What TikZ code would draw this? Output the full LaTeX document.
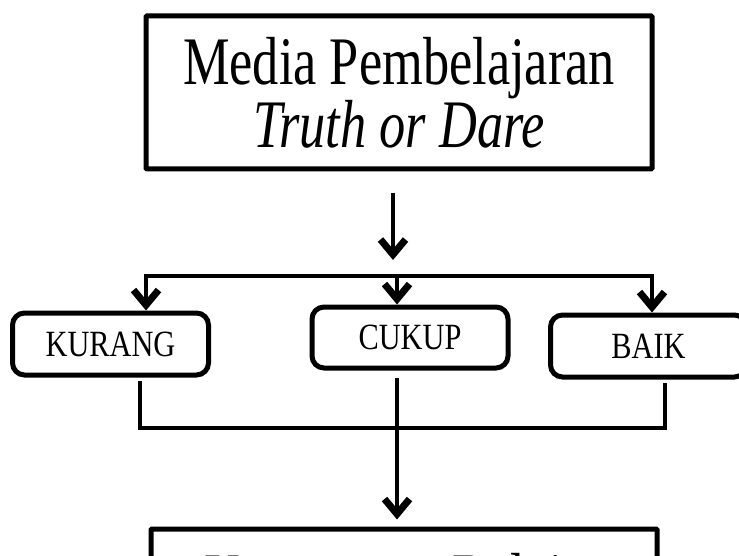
\documentclass[tikz,border=0pt]{standalone}
\usepackage{fontspec}
\usepackage{graphicx}
\setmainfont{Liberation Serif}
\usetikzlibrary{arrows.meta}
\newcommand\hx[1]{\scalebox{0.77}[1]{#1}}
\newcommand\cx[1]{\scalebox{0.82}[1]{#1}}
\begin{document}
\begin{tikzpicture}[x=1pt,y=-1pt,
  bigbox/.style={draw, line width=5pt, rounded corners=1pt, minimum width=506pt, minimum height=153pt,
    inner sep=0pt, align=center, font=\fontsize{68}{58}\selectfont},
  catbox/.style={draw, line width=5pt, rounded corners=12pt, minimum width=196pt, minimum height=62pt,
    inner sep=0pt, font=\fontsize{37}{40}\selectfont},
  busline/.style={line width=4.5pt, line cap=rect},
  arr/.style={line width=4.5pt, -{Straight Barb[length=15pt,width=25pt,line width=7pt]}},
]
\useasboundingbox[fill=white] (0,0) rectangle (739,556);

% boxes
\node[bigbox] (media) at (399,92.5) {\hx{Media Pembelajaran}\\\hx{\itshape Truth or Dare}};
\node[catbox] (kurang) at (110.5,344) {\cx{KURANG}};
\node[catbox, minimum height=61pt] (cukup) at (410,337.5) {\cx{CUKUP}};
\node[catbox] (baik) at (648.5,346) {\cx{BAIK}};
\node[bigbox, text height=46pt, text depth=57pt] (hasil) at (404,605.5) {\hx{Ketuntasan Belajar}};

% top arrow and bus
\coordinate (a0) at (393,193);
\coordinate (a1) at (393,260);
\draw[arr] (a0) -- (a1);
\coordinate (bl) at (146,276);
\coordinate (bc) at (397,276);
\coordinate (br) at (652,276);
\draw[busline] (bl) -- (br);
\draw[arr] (bl) -- (bl |- kurang.north);
\draw[arr] (bc) -- (bc |- cukup.north);
\draw[arr] (br) -- (br |- baik.north);

% bottom bus
\coordinate (kl) at (140,428);
\coordinate (kr) at (665,428);
\draw[busline, line cap=butt, line join=miter] ([yshift=-3pt]kurang.south -| kl) -- (kl) -- (kr) -- ([yshift=-3pt]baik.south -| kr);
\coordinate (cd) at (397,378);
\draw[arr, shorten >=7pt] (cd) -- (cd |- hasil.north);
\end{tikzpicture}
\end{document}
